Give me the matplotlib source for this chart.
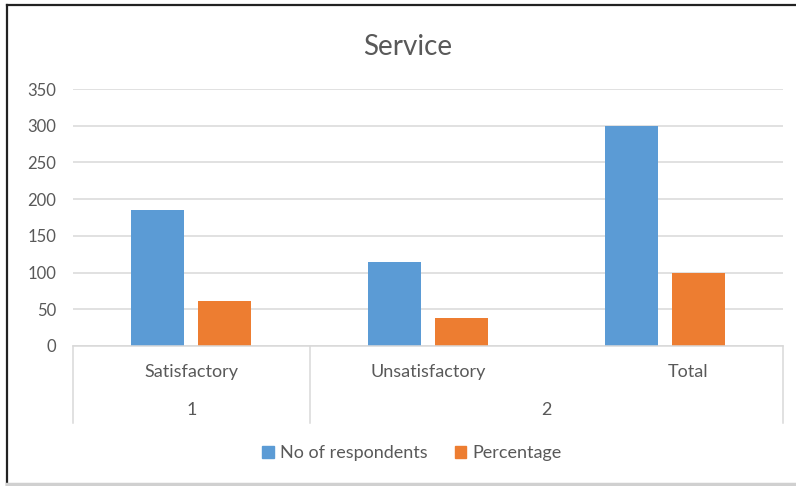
import numpy as np
import matplotlib.pyplot as plt
from matplotlib.lines import Line2D
from matplotlib.patches import Patch

categories = ["Satisfactory", "Unsatisfactory", "Total"]
groups = ["1", "2"]
group_spans = [(0, 0), (1, 2)]  # first and last category index per group
respondents = [185, 115, 300]
percentage = [61.67, 38.33, 100]
yticks = [0, 50, 100, 150, 200, 250, 300, 350]

BLUE = "#5B9BD5"
ORANGE = "#ED7D31"
GRID = "#D9D9D9"
TEXT = "#595959"

plt.rcParams["font.family"] = ["Lato", "DejaVu Sans"]

fig = plt.figure(figsize=(7.96, 4.86), dpi=100)
ax = fig.add_axes([73 / 796, 1 - 346 / 486, 710 / 796, 257 / 486])

x = np.arange(len(categories))
width = 0.224
off = 0.1415
ax.bar(x - off, respondents, width, color=BLUE, zorder=3, label="No of respondents")
ax.bar(x + off, percentage, width, color=ORANGE, zorder=3, label="Percentage")

ax.set_xlim(-0.5, len(categories) - 0.5)
ax.set_ylim(0, 350)
ax.set_yticks(yticks)
ax.yaxis.grid(True, color=GRID, linewidth=1.1, zorder=0)
ax.tick_params(axis="y", length=0, pad=12, labelsize=12, labelcolor=TEXT)
ax.set_xticks([])
for s in ax.spines.values():
    s.set_visible(False)

# two-level category axis drawn below the plot
tr = ax.get_xaxis_transform()
ax.plot([-0.5, 2.5], [0, 0], color=GRID, linewidth=1.1, transform=tr, clip_on=False, zorder=4)
box_bottom = -77 / 257
for b in [-0.5, 0.5, 2.5]:
    ax.plot([b, b], [0, box_bottom], color=GRID, linewidth=1.1, transform=tr, clip_on=False)

label_x = [0, 1, 2.1]
for xi, name in zip(label_x, categories):
    ax.text(xi, -26 / 257, name, transform=tr, ha="center", va="center",
            fontsize=13, color=TEXT)
for name, (a, b) in zip(groups, group_spans):
    ax.text((a + b) / 2, -64 / 257, name, transform=tr, ha="center", va="center",
            fontsize=13, color=TEXT)

fig.text(408 / 796, 1 - 47 / 486, "Service", ha="center", va="center",
         fontsize=20, color=TEXT)

handles = [Patch(color=BLUE, label="No of respondents"),
           Patch(color=ORANGE, label="Percentage")]
fig.legend(handles=handles, loc="center", bbox_to_anchor=(412 / 796, 1 - 453 / 486),
           ncol=2, frameon=False, fontsize=13, labelcolor=TEXT,
           handlelength=0.65, handleheight=0.65, handletextpad=0.35, columnspacing=1.5)

# outer frame of the chart
fig.add_artist(Line2D([7 / 796, 7 / 796], [0.0, 1 - 5 / 486], color="#222222", linewidth=1.6))
fig.add_artist(Line2D([7 / 796, 1.0], [1 - 5 / 486, 1 - 5 / 486], color="#222222", linewidth=1.6))
fig.add_artist(Line2D([7 / 796, 1.0], [1 - 484 / 486, 1 - 484 / 486], color="#D0D0D0", linewidth=2.5))

fig.savefig("out.png", dpi=100, facecolor="white")
